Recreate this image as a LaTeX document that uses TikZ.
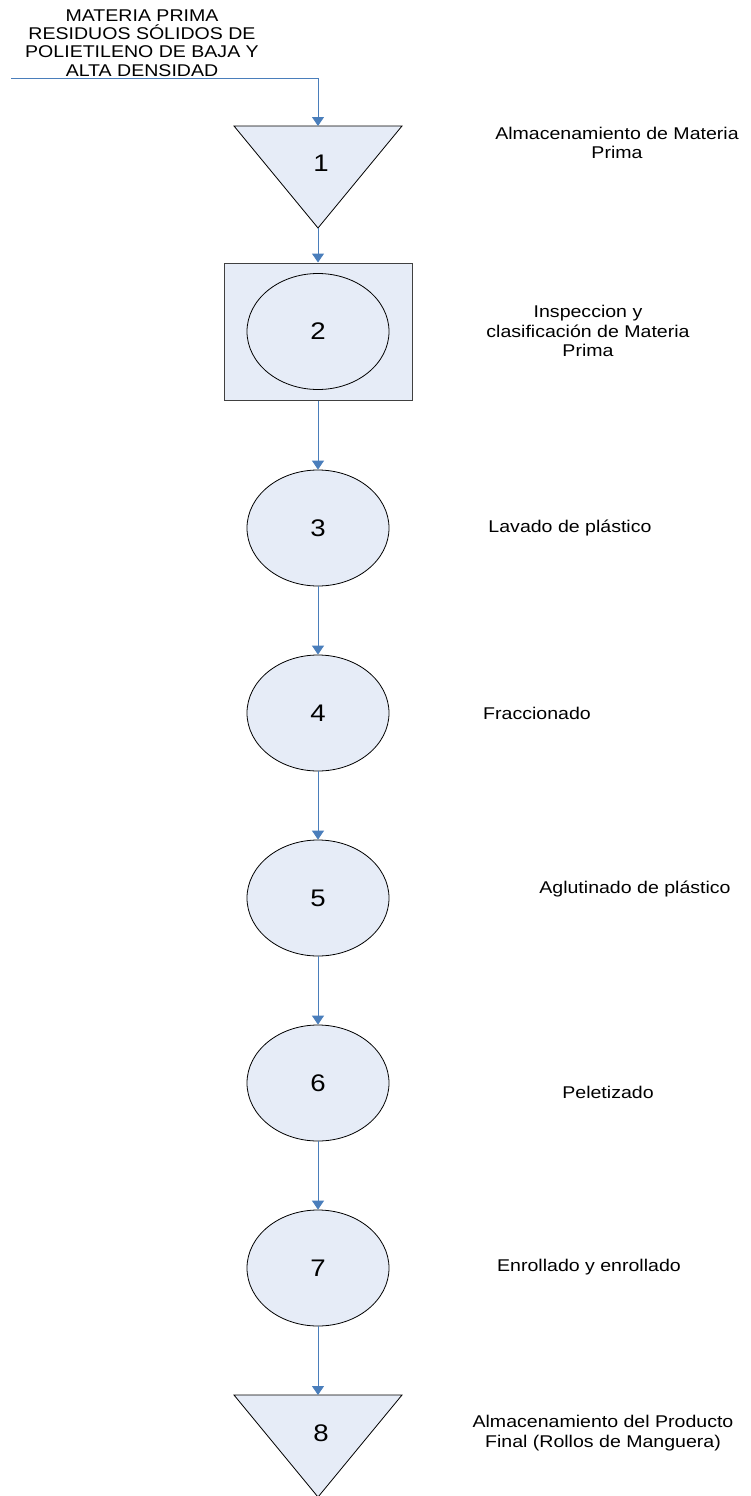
\documentclass[tikz,border=0pt]{standalone}
\usepackage{fontspec}
\setmainfont{Liberation Sans}[FakeStretch=1.15]
\usetikzlibrary{arrows.meta,positioning,shapes.geometric}
\definecolor{flujo}{HTML}{4A7EBB}
\definecolor{relleno}{HTML}{E6ECF7}
\tikzset{
  flecha/.style={flujo, line width=1pt, -{Triangle[width=12pt,length=9pt]}},
  linea/.style={flujo, line width=1pt},
  etapa/.style={ellipse, draw=black, fill=relleno, line width=0.8pt, minimum width=142pt, minimum height=116pt, inner sep=0pt, font=\fontsize{24}{26}\selectfont},
  caja/.style={rectangle, draw=black!75, fill=relleno, line width=1pt, minimum width=188pt, minimum height=137pt},
  almacen/.style={draw=black, fill=relleno, line width=0.8pt},
  numero/.style={font=\fontsize{24}{26}\selectfont},
  rotulo/.style={align=center, font=\fontsize{17}{19.5}\selectfont}
}
\begin{document}
\begin{tikzpicture}[x=1pt,y=-1pt]
                \useasboundingbox (0,0) rectangle (751,1496);

                \node[rotulo, font=\fontsize{17}{18.3}\selectfont] (materia) at (142,43) {MATERIA PRIMA\\RESIDUOS SÓLIDOS DE\\POLIETILENO DE BAJA Y\\ALTA DENSIDAD};
                \coordinate (entrada) at (11,78);

                \coordinate (alm1) at (318,126);
                \coordinate (alm1pie) at (318,228);
                \filldraw [almacen] (234,126) -- (402,126) -- (alm1pie) -- cycle;
                \node[numero] (n1) at (321,163) {1};

                \node[caja] (caja2) at (318,331.5) {};
                \node[etapa] (e2) at (318,331.5) {2};
                \node[etapa] (e3) at (318,528) {3};
                \node[etapa] (e4) at (318,713) {4};
                \node[etapa] (e5) at (318,898) {5};
                \node[etapa] (e6) at (318,1083) {6};
                \node[etapa] (e7) at (318,1268) {7};

                \coordinate (alm8) at (318,1395);
                \filldraw [almacen] (234,1395) -- (402,1395) -- (318,1497) -- cycle;
                \node[numero] (n8) at (321,1433) {8};

                \node[rotulo] (r1) at (617,143) {Almacenamiento de Materia\\Prima};
                \node[rotulo] (r2) at (588,331) {Inspeccion y\\clasificación de Materia\\Prima};
                \node[rotulo] (r3) at (570,528) {Lavado de plástico};
                \node[rotulo] (r4) at (537,713) {Fraccionado};
                \node[rotulo] (r5) at (635,889) {Aglutinado de plástico};
                \node[rotulo] (r6) at (608,1092) {Peletizado};
                \node[rotulo] (r7) at (589,1267) {Enrollado y enrollado};
                \node[rotulo] (r8) at (603,1433) {Almacenamiento del Producto\\Final (Rollos de Manguera)};

                \draw [flecha] (entrada) -| (alm1);
                \draw [flecha] (alm1pie) -- (caja2.north);
                \draw [flecha] (caja2.south) -- (e3.north);
                \draw [flecha] (e3.south) -- (e4.north);
                \draw [flecha] (e4.south) -- (e5.north);
                \draw [flecha] (e5.south) -- (e6.north);
                \draw [flecha] (e6.south) -- (e7.north);
                \draw [flecha] (e7.south) -- (alm8);
            \end{tikzpicture}
\end{document}
